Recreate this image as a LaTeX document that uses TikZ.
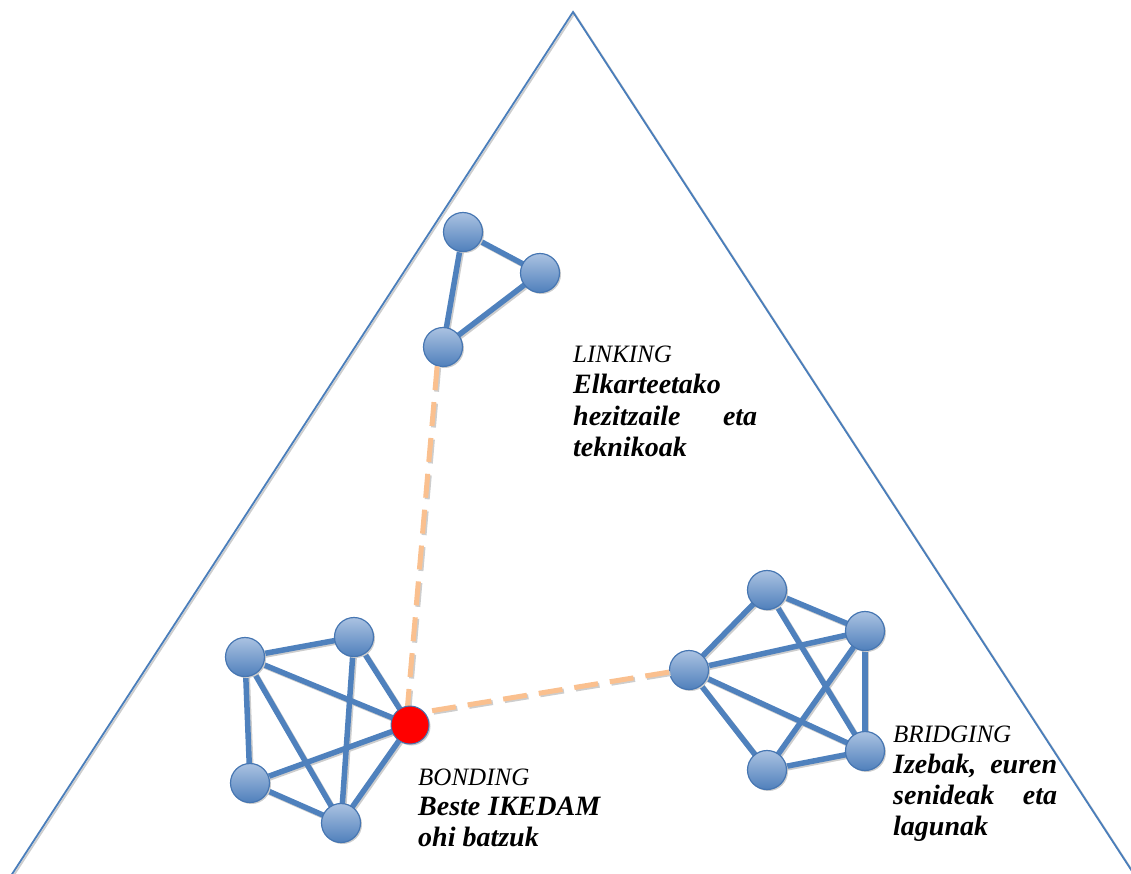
\documentclass[tikz,border=0pt]{standalone}
\usepackage{fontspec}
\setmainfont{Liberation Serif}
\usetikzlibrary{shadows}
\definecolor{edgeblue}{RGB}{79,129,189}
\definecolor{triblue}{RGB}{74,126,187}
\definecolor{balltop}{RGB}{170,194,225}
\definecolor{ballbot}{RGB}{80,128,188}
\definecolor{ballborder}{RGB}{70,118,178}
\definecolor{dashorange}{RGB}{250,192,143}
\definecolor{shadowgray}{RGB}{205,205,205}
\begin{document}
\begin{tikzpicture}[x=1pt,y=-1pt,
  ball/.style={circle, minimum size=39pt, inner sep=0pt, draw=ballborder, line width=1.2pt,
    top color=balltop, bottom color=ballbot,
    drop shadow={shadow xshift=1.5pt, shadow yshift=-1.5pt, fill=shadowgray, opacity=1}},
  redball/.style={circle, minimum size=38pt, inner sep=0pt, draw=ballborder, line width=1pt, fill=red,
    drop shadow={shadow xshift=1.5pt, shadow yshift=-1.5pt, fill=shadowgray, opacity=1}},
  edge/.style={draw=edgeblue, line width=5.5pt},
  edgeshadow/.style={draw=shadowgray, line width=5.5pt, transform canvas={shift={(1.5pt,-1.5pt)}}},
  tie/.style={draw=dashorange, line width=5pt, dash pattern=on 24pt off 12pt},
  tieshadow/.style={draw=shadowgray, line width=5pt, dash pattern=on 24pt off 12pt, transform canvas={shift={(1.5pt,-1.5pt)}}},
  triline/.style={draw=triblue, line width=1.8pt},
  trishadow/.style={draw=shadowgray, line width=1.8pt, transform canvas={shift={(1.5pt,-1.5pt)}}},
  head/.style={font=\fontsize{25}{31}\selectfont\itshape, inner sep=0pt, anchor=base west},
  lbl/.style={font=\fontsize{28}{31}\selectfont\bfseries\itshape, inner sep=0pt, anchor=base west}
]
\useasboundingbox (0,0) rectangle (1131,873);
% triangle
\coordinate (apex) at (573,12);
\coordinate (bl) at (-10,908);
\coordinate (br) at (1156,908);
\begin{scope}
\clip (0,0) rectangle (1131,873);
\draw[trishadow] (bl) -- (apex) -- (br);
\draw[triline] (bl) -- (apex) -- (br);
\end{scope}
% node positions
\coordinate (pA1) at (463,232);
\coordinate (pA2) at (540,273);
\coordinate (pA3) at (443,347);
\coordinate (pB1) at (245,657);
\coordinate (pB2) at (354,637);
\coordinate (pR)  at (410,725);
\coordinate (pRtop) at (407,712);
\coordinate (pRright) at (424,712);
\coordinate (pB3) at (250,783);
\coordinate (pB4) at (341,823);
\coordinate (pC1) at (689,670);
\coordinate (pC2) at (767,590);
\coordinate (pC3) at (865,631);
\coordinate (pC4) at (865,751);
\coordinate (pC5) at (767,770);
% edges
\foreach \a/\b in {pA1/pA2,pA2/pA3,pA1/pA3,
  pB1/pB2,pB1/pB3,pB1/pR,pB1/pB4,pB2/pR,pB2/pB4,pB3/pR,pB3/pB4,pB4/pR,
  pC1/pC2,pC1/pC3,pC1/pC4,pC1/pC5,pC2/pC3,pC2/pC4,pC3/pC4,pC3/pC5,pC5/pC4}{
  \draw[edgeshadow] (\a) -- (\b);
}
\foreach \a/\b in {pA1/pA2,pA2/pA3,pA1/pA3,
  pB1/pB2,pB1/pB3,pB1/pR,pB1/pB4,pB2/pR,pB2/pB4,pB3/pR,pB3/pB4,pB4/pR,
  pC1/pC2,pC1/pC3,pC1/pC4,pC1/pC5,pC2/pC3,pC2/pC4,pC3/pC4,pC3/pC5,pC5/pC4}{
  \draw[edge] (\a) -- (\b);
}
% nodes
\node[ball] (A1) at (pA1) {};
\node[ball] (A2) at (pA2) {};
\node[ball] (A3) at (pA3) {};
\node[ball] (B1) at (pB1) {};
\node[ball] (B2) at (pB2) {};
\node[ball] (B3) at (pB3) {};
\node[ball] (B4) at (pB4) {};
\node[ball] (C1) at (pC1) {};
\node[ball] (C2) at (pC2) {};
\node[ball] (C3) at (pC3) {};
\node[ball] (C4) at (pC4) {};
\node[ball] (C5) at (pC5) {};
% dashed ties
\draw[tieshadow] (A3.253) -- (pRtop);
\draw[tie] (A3.253) -- (pRtop);
\draw[tieshadow] (C1.186) -- (pRright);
\draw[tie] (C1.186) -- (pRright);
\node[redball] (R) at (pR) {};
% labels
\node[head] (lk1) at (573,362) {LINKING};
\node[lbl] (lk2) at (573,393.5) {Elkarteetako};
\node[lbl] (lk3) at (573,425) {\makebox[184pt][s]{hezitzaile eta}};
\node[lbl] (lk4) at (573,456.5) {teknikoak};
\node[head] (bo1) at (418,785) {BONDING};
\node[lbl] (bo2) at (418,815.5) {\makebox[182pt][s]{Beste IKEDAM}};
\node[lbl] (bo3) at (418,846) {ohi batzuk};
\node[head] (br1) at (893,742) {BRIDGING};
\node[lbl] (br2) at (893,773) {\makebox[164pt][s]{Izebak, euren}};
\node[lbl] (br3) at (893,804) {\makebox[164pt][s]{senideak eta}};
\node[lbl] (br4) at (893,835) {lagunak};
\end{tikzpicture}
\end{document}
